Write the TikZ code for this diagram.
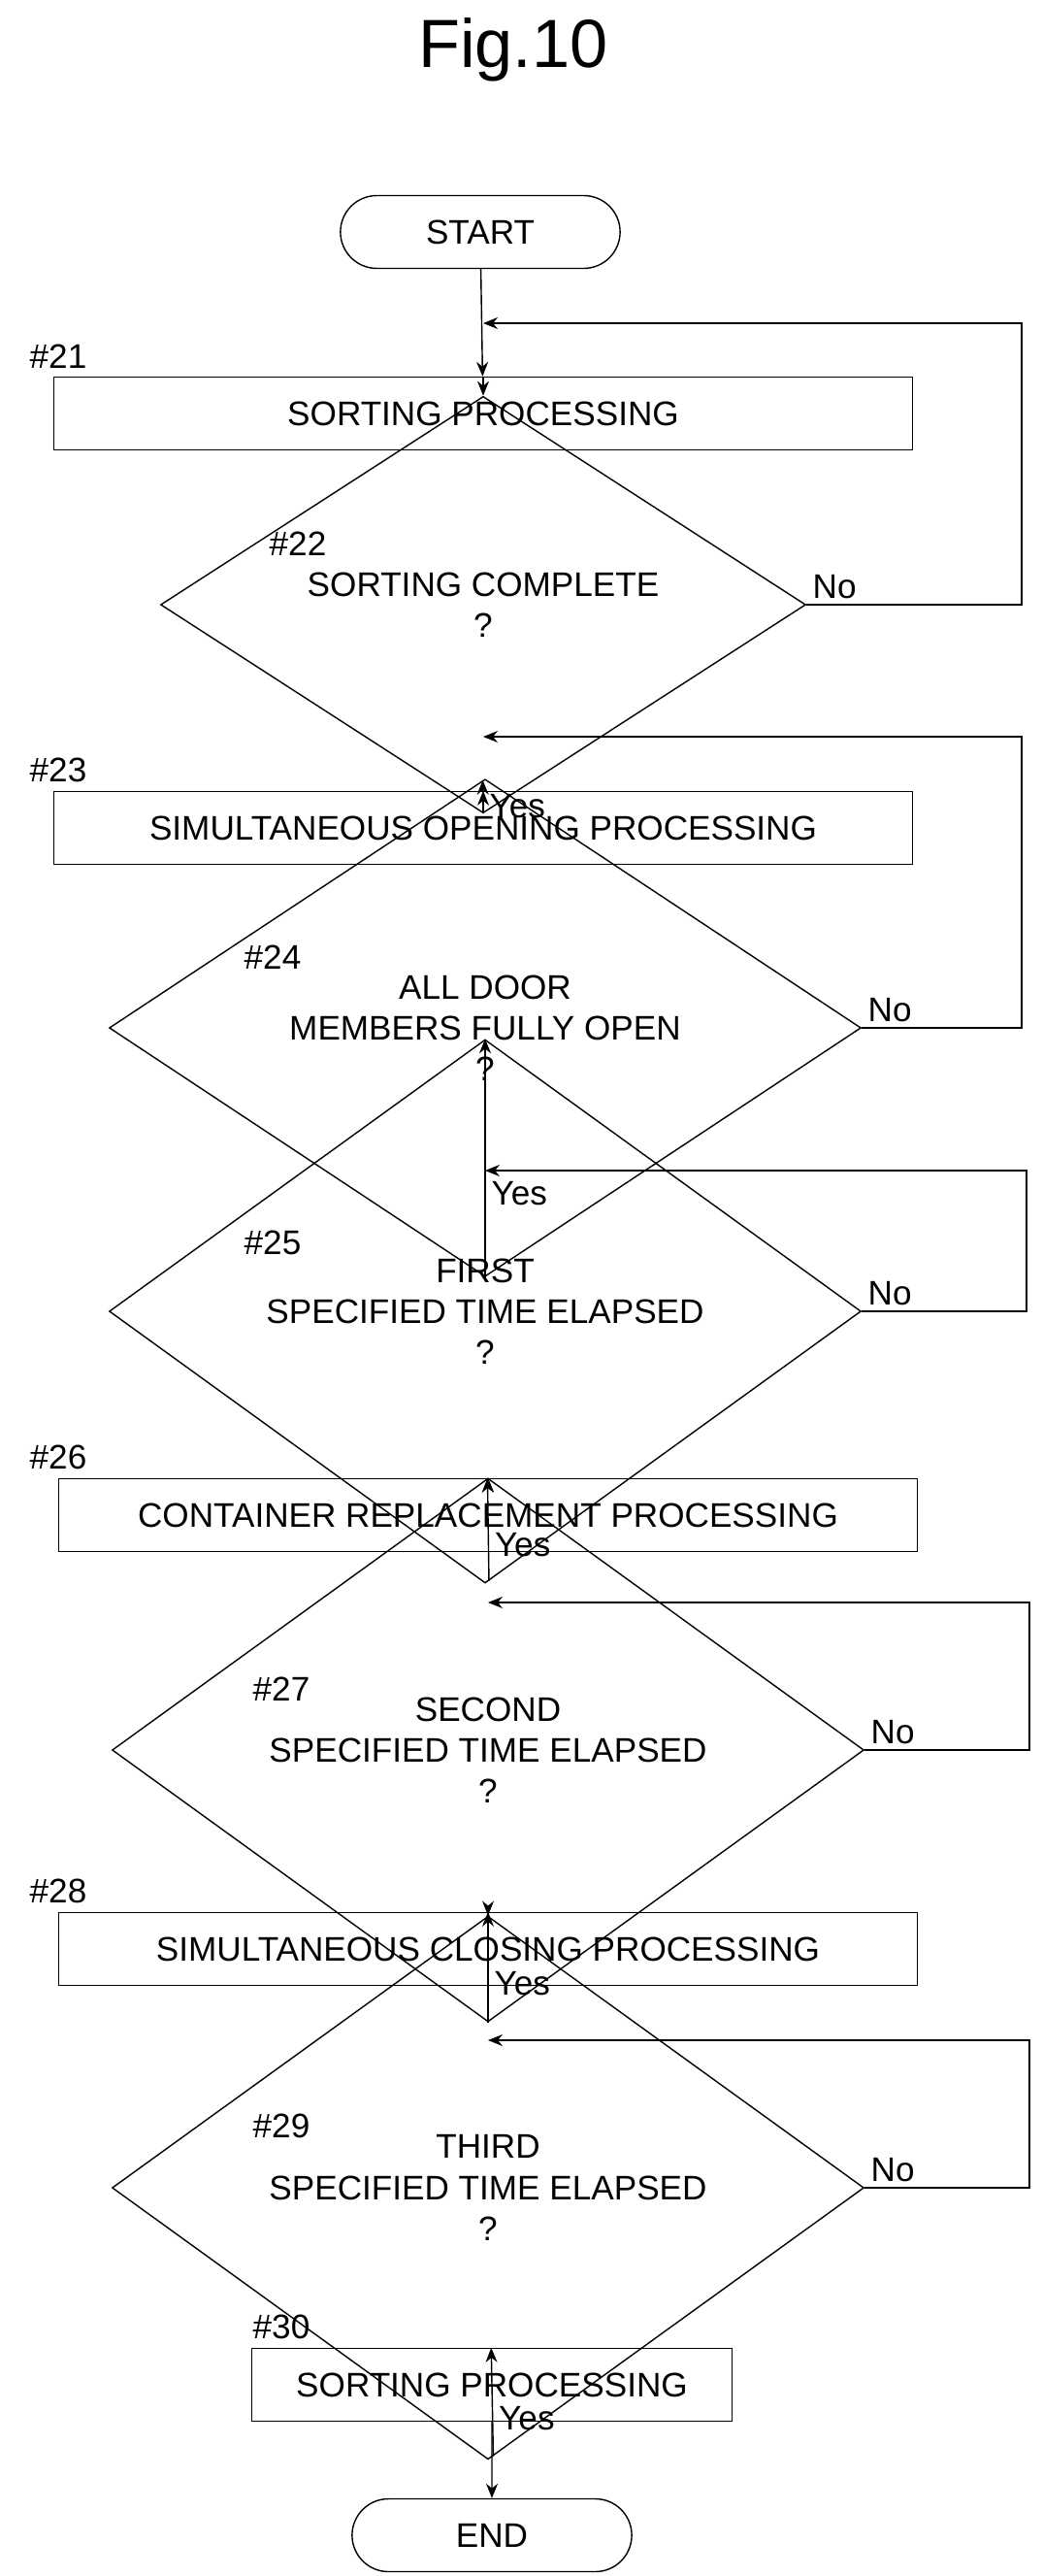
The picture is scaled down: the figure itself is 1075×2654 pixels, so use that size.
\documentclass[tikz,border=0pt]{standalone}
\usepackage{fontspec}
\setmainfont{Liberation Sans}
\usetikzlibrary{shapes.geometric,shapes.misc,arrows.meta}
\tikzset{
  flow/.style={draw,thick,font=\fontsize{20}{24}\selectfont,align=center},
  proc/.style={flow,rectangle,minimum height=1.5cm},
  term/.style={flow,rounded rectangle,minimum width=6cm,minimum height=1.5cm},
  test/.style={flow,diamond,inner sep=0pt},
  tag/.style={font=\fontsize{20}{24}\selectfont},
  line/.style={thick,-{Stealth[length=3mm,width=2.4mm]}}
}
\begin{document}
\begin{tikzpicture}[x=0.02cm,y=-0.02cm]
        \useasboundingbox (0,0) rectangle (1075,2654);
        \node[font=\fontsize{40}{48}\selectfont] (title) at (529,51) {Fig.10};

        % boxes
        \node[term] (start) at (495,239) {START};
        \node[proc,minimum width=17.7cm] (s21) at (498,426) {SORTING PROCESSING};
        \node[test,minimum width=13.3cm,minimum height=3.1cm] (s22) at (498,623) {SORTING COMPLETE\\?};
        \node[proc,minimum width=17.7cm] (s23) at (498,853) {SIMULTANEOUS OPENING PROCESSING};
        \node[test,minimum width=15.5cm,minimum height=3.5cm] (s24) at (500,1059) {ALL DOOR\\MEMBERS FULLY OPEN\\?};
        \node[test,minimum width=15.5cm,minimum height=3.6cm] (s25) at (500,1351) {FIRST\\SPECIFIED TIME ELAPSED\\?};
        \node[proc,minimum width=17.7cm] (s26) at (503,1561) {CONTAINER REPLACEMENT PROCESSING};
        \node[test,minimum width=15.5cm,minimum height=3.6cm] (s27) at (503,1803) {SECOND\\SPECIFIED TIME ELAPSED\\?};
        \node[proc,minimum width=17.7cm] (s28) at (503,2008) {SIMULTANEOUS CLOSING PROCESSING};
        \node[test,minimum width=15.5cm,minimum height=3.5cm] (s29) at (503,2254) {THIRD\\SPECIFIED TIME ELAPSED\\?};
        \node[proc,minimum width=9.9cm] (s30) at (507,2457) {SORTING PROCESSING};
        \node[term] (end) at (507,2612) {END};

        % step numbers
        \node[tag] (t21) at (60,367) {\#21};
        \node[tag] (t22) at (307,560) {\#22};
        \node[tag] (t23) at (60,793) {\#23};
        \node[tag] (t24) at (281,986) {\#24};
        \node[tag] (t25) at (281,1280) {\#25};
        \node[tag] (t26) at (60,1501) {\#26};
        \node[tag] (t27) at (290,1740) {\#27};
        \node[tag] (t28) at (60,1948) {\#28};
        \node[tag] (t29) at (290,2190) {\#29};
        \node[tag] (t30) at (290,2397) {\#30};

        % loop joins
        \coordinate (j21) at (498,333);
        \coordinate (j23) at (498,759);
        \coordinate (j25) at (500,1206);
        \coordinate (j27) at (503,1651);
        \coordinate (j29) at (503,2102);

        % main line
        \draw[line] (start) -- (s21);
        \draw[line] (s21) -- (s22);
        \draw[line] (s22) -- node[tag,right,pos=0.35] {Yes} (s23);
        \draw[line] (s23) -- (s24);
        \draw[line] (s24) -- node[tag,right,pos=0.35] {Yes} (s25);
        \draw[line] (s25) -- node[tag,right,pos=0.35] {Yes} (s26);
        \draw[line] (s26) -- (s27);
        \draw[line] (s27) -- node[tag,right,pos=0.35] {Yes} (s28);
        \draw[line] (s28) -- (s29);
        \draw[line] (s29) -- node[tag,right,pos=0.35] {Yes} (s30);
        \draw[line] (s30) -- (end);

        % No loops
        \draw[line] (s22.east) node[tag,above right] {No} -- (1053,623) |- (j21);
        \draw[line] (s24.east) node[tag,above right] {No} -- (1053,1059) |- (j23);
        \draw[line] (s25.east) node[tag,above right] {No} -- (1058,1351) |- (j25);
        \draw[line] (s27.east) node[tag,above right] {No} -- (1061,1803) |- (j27);
        \draw[line] (s29.east) node[tag,above right] {No} -- (1061,2254) |- (j29);
    \end{tikzpicture}
\end{document}
